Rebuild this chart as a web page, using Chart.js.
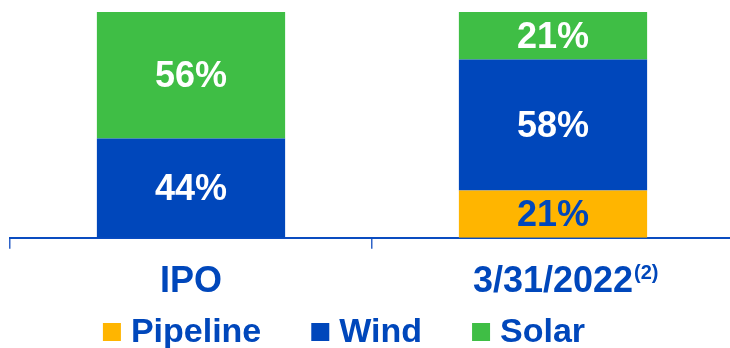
<!DOCTYPE html>
<html>
<head>
<meta charset="utf-8">
<script src="https://cdn.jsdelivr.net/npm/chart.js@4.4.1/dist/chart.umd.min.js"></script>
<style>
  html, body { margin: 0; padding: 0; background: #ffffff; overflow: hidden; }
  #wrap { position: relative; width: 734px; height: 348px; }
</style>
</head>
<body>
<div id="wrap"><canvas id="chart" width="734" height="348"></canvas></div>
<script>
// Portfolio mix by technology (share of total, %)
const categories = ['IPO', '3/31/2022'];
const categoryNotes = ['', '(2)'];
const pipeline = [0, 21];
const wind = [44, 58];
const solar = [56, 21];
const seriesNames = ['Pipeline', 'Wind', 'Solar'];

const BLUE = '#0047BB';
const GREEN = '#3FBE45';
const ORANGE = '#FFB500';
const FONT = '"Liberation Sans", Arial, sans-serif';

// Percent labels centred inside each stacked segment
const segmentLabels = {
  id: 'segmentLabels',
  afterDatasetsDraw(chart) {
    const ctx = chart.ctx;
    ctx.save();
    ctx.font = 'bold 36px ' + FONT;
    ctx.textAlign = 'center';
    ctx.textBaseline = 'middle';
    chart.data.datasets.forEach((ds, di) => {
      const meta = chart.getDatasetMeta(di);
      meta.data.forEach((bar, i) => {
        const v = ds.data[i];
        if (!v) return;
        const p = bar.getProps(['x', 'y', 'base'], true);
        ctx.fillStyle = ds.labelColor;
        ctx.fillText(v + '%', p.x, (p.y + p.base) / 2 + 2);
      });
    });
    ctx.restore();
  }
};

// Footnote markers after category labels, and the legend row
const extras = {
  id: 'extras',
  afterDraw(chart) {
    const ctx = chart.ctx;
    const xs = chart.scales.x;
    ctx.save();
    // footnote superscripts
    categories.forEach((c, i) => {
      const note = categoryNotes[i];
      if (!note) return;
      ctx.font = 'bold 36px ' + FONT;
      const w = ctx.measureText(c).width;
      const cx = xs.getPixelForValue(i);
      ctx.font = 'bold 20px ' + FONT;
      ctx.fillStyle = BLUE;
      ctx.textAlign = 'left';
      ctx.textBaseline = 'alphabetic';
      ctx.fillText(note, cx + w / 2 + 1, xs.top + 41);
    });
    // legend
    const box = 18, gapBox = 10, gapItem = 50;
    ctx.font = 'bold 34px ' + FONT;
    const items = chart.data.datasets.map(ds => ({
      label: ds.label, color: ds.backgroundColor,
      w: box + gapBox + ctx.measureText(ds.label).width
    }));
    const total = items.reduce((s, it) => s + it.w, 0) + gapItem * (items.length - 1);
    let x = 344 - total / 2;
    const cy = 332;
    items.forEach(it => {
      ctx.fillStyle = it.color;
      ctx.fillRect(x, cy - box / 2, box, box);
      ctx.fillStyle = BLUE;
      ctx.textAlign = 'left';
      ctx.textBaseline = 'middle';
      ctx.fillText(it.label, x + box + gapBox, cy + 1);
      x += it.w + gapItem;
    });
    ctx.restore();
  }
};

new Chart(document.getElementById('chart'), {
  type: 'bar',
  data: {
    labels: categories,
    datasets: [
      { label: seriesNames[0], data: pipeline, backgroundColor: ORANGE, labelColor: BLUE },
      { label: seriesNames[1], data: wind, backgroundColor: BLUE, labelColor: '#ffffff' },
      { label: seriesNames[2], data: solar, backgroundColor: GREEN, labelColor: '#ffffff' }
    ]
  },
  options: {
    responsive: false,
    animation: false,
    devicePixelRatio: 1,
    layout: { padding: { left: 10, right: 0, top: 12, bottom: 32 } },
    datasets: { bar: { categoryPercentage: 1, barPercentage: 0.52, borderWidth: 0 } },
    plugins: { legend: { display: false }, tooltip: { enabled: false } },
    scales: {
      x: {
        stacked: true,
        grid: { offset: true, drawOnChartArea: false, drawTicks: true, tickLength: 11, color: '#2f63c8', lineWidth: 1.5 },
        border: { display: true, color: '#0a4cc0', width: 2 },
        ticks: { color: BLUE, font: { family: FONT, size: 36, weight: 'bold' }, padding: 12, maxRotation: 0 }
      },
      y: {
        stacked: true, display: false, min: 0, max: 100
      }
    }
  },
  plugins: [segmentLabels, extras]
});
</script>
</body>
</html>
